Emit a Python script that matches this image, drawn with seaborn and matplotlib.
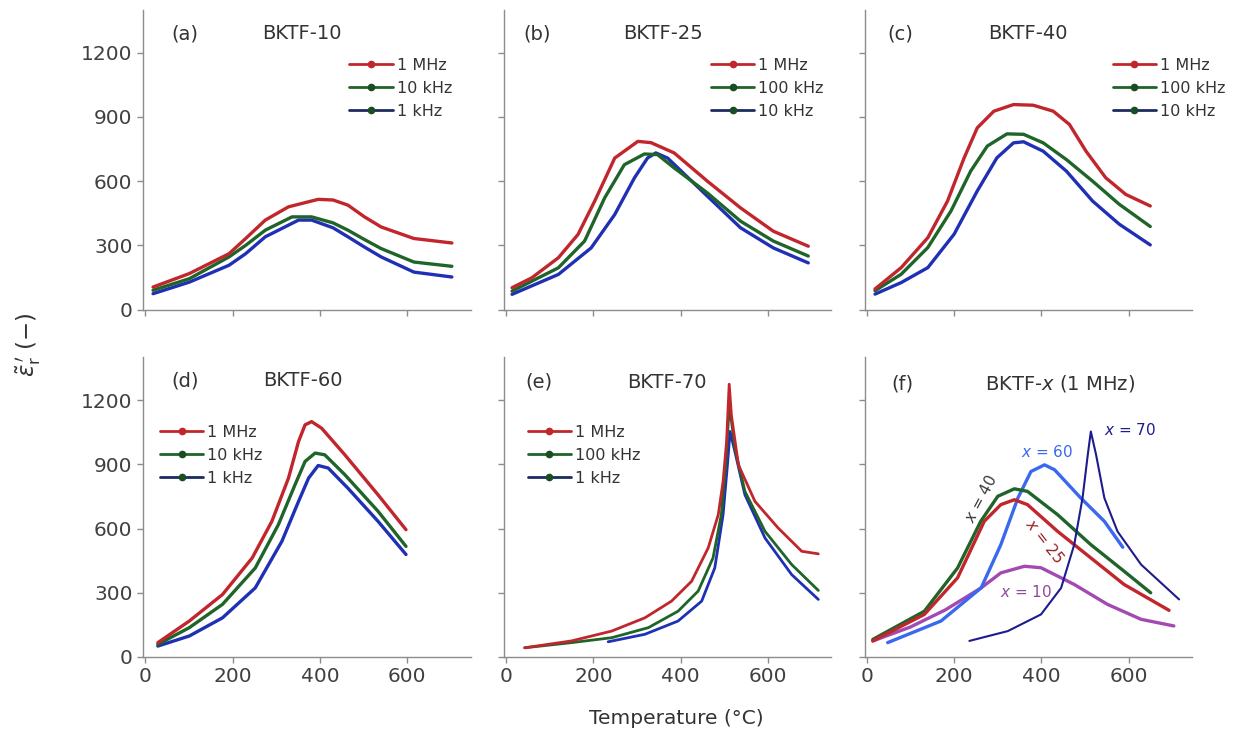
import matplotlib
matplotlib.use("Agg")
import matplotlib.pyplot as plt
from matplotlib.lines import Line2D
import pandas as pd
import seaborn as sns

# ---------------- data (temperature in °C, permittivity) ----------------
# (a) BKTF-10
a_1MHz_T = [18, 101, 192, 230, 275, 328, 396, 430, 464, 502, 540, 615, 702]
a_1MHz_V = [105, 168, 261, 332, 418, 480, 515, 512, 488, 433, 386, 332, 311]
a_10kHz_T = [18, 101, 192, 230, 275, 336, 381, 430, 464, 502, 540, 615, 702]
a_10kHz_V = [90, 144, 246, 300, 371, 433, 433, 405, 371, 327, 285, 222, 202]
a_1kHz_T = [18, 101, 192, 230, 275, 351, 381, 430, 464, 502, 540, 615, 702]
a_1kHz_V = [74, 128, 207, 261, 340, 418, 418, 382, 340, 292, 246, 175, 152]

# (b) BKTF-25
b_1MHz_T = [14, 59, 120, 165, 203, 249, 302, 332, 385, 461, 537, 612, 692]
b_1MHz_V = [102, 148, 242, 351, 506, 708, 786, 780, 732, 600, 475, 366, 296]
b_100kHz_T = [14, 120, 180, 226, 271, 317, 347, 385, 461, 537, 612, 692]
b_100kHz_V = [86, 195, 320, 522, 677, 727, 724, 662, 545, 413, 320, 250]
b_10kHz_T = [14, 120, 195, 249, 294, 324, 343, 370, 461, 537, 612, 692]
b_10kHz_V = [71, 164, 288, 444, 615, 708, 732, 708, 530, 382, 288, 218]

# (c) BKTF-40
c_1MHz_T = [19, 79, 140, 185, 223, 253, 291, 336, 381, 427, 464, 502, 547, 593, 649]
c_1MHz_V = [96, 196, 336, 507, 709, 849, 927, 958, 955, 927, 865, 740, 616, 538, 484]
c_100kHz_T = [19, 79, 140, 193, 238, 276, 321, 359, 404, 457, 517, 578, 649]
c_100kHz_V = [88, 165, 290, 461, 647, 764, 821, 819, 779, 701, 600, 492, 388]
c_10kHz_T = [19, 79, 140, 200, 253, 298, 336, 359, 404, 457, 517, 578, 649]
c_10kHz_V = [72, 126, 196, 352, 554, 709, 779, 784, 740, 647, 507, 399, 302]

# (d) BKTF-60
d_1MHz_T = [29, 101, 177, 245, 290, 328, 351, 366, 381, 404, 457, 533, 597]
d_1MHz_V = [67, 168, 292, 463, 634, 836, 1007, 1085, 1100, 1069, 945, 758, 595]
d_10kHz_T = [29, 101, 177, 252, 305, 343, 366, 389, 411, 457, 533, 597]
d_10kHz_V = [59, 137, 246, 416, 619, 805, 914, 953, 945, 852, 681, 517]
d_1kHz_T = [29, 101, 177, 252, 313, 351, 374, 396, 419, 464, 533, 597]
d_1kHz_V = [51, 98, 183, 323, 541, 727, 836, 895, 883, 789, 634, 479]

# (e) BKTF-70
e_1MHz_T = [43, 150, 242, 318, 379, 425, 463, 486, 497, 505, 511, 516, 532, 570, 623, 677, 715]
e_1MHz_V = [43, 75, 121, 183, 261, 354, 510, 665, 820, 1007, 1275, 1131, 898, 727, 603, 494, 482]
e_100kHz_T = [43, 150, 242, 326, 394, 440, 474, 493, 503, 509, 512, 524, 547, 593, 654, 715]
e_100kHz_V = [43, 67, 90, 137, 214, 308, 463, 665, 898, 1100, 1170, 976, 774, 587, 432, 311]
e_1kHz_T = [234, 318, 394, 448, 478, 497, 507, 513, 524, 547, 593, 654, 715]
e_1kHz_V = [71, 106, 168, 261, 416, 665, 898, 1054, 960, 758, 556, 385, 269]

# (f) BKTF-x at 1 MHz
f_x10_T = [14, 100, 180, 262, 307, 361, 399, 475, 551, 628, 703]
f_x10_V = [75, 140, 220, 323, 393, 424, 417, 339, 246, 176, 145]
f_x25_T = [14, 132, 208, 269, 307, 338, 368, 437, 513, 589, 692]
f_x25_V = [75, 199, 370, 634, 712, 735, 712, 587, 463, 339, 218]
f_x40_T = [14, 132, 208, 261, 300, 338, 368, 437, 513, 589, 650]
f_x40_V = [82, 214, 416, 634, 751, 786, 774, 665, 525, 401, 300]
f_x60_T = [48, 170, 262, 307, 346, 376, 407, 430, 490, 544, 586]
f_x60_V = [67, 168, 323, 525, 743, 867, 898, 875, 743, 634, 513]
f_x70_T = [235, 323, 399, 445, 475, 494, 506, 513, 525, 544, 574, 628, 715]
f_x70_V = [75, 121, 199, 323, 525, 743, 945, 1054, 945, 743, 587, 432, 269]

panel_tags = ["(a)", "(b)", "(c)", "(d)", "(e)", "(f)"]
panel_names = ["BKTF-10", "BKTF-25", "BKTF-40", "BKTF-60", "BKTF-70", "BKTF-$x$ (1 MHz)"]
legend_labels = [
    ["1 MHz", "10 kHz", "1 kHz"],
    ["1 MHz", "100 kHz", "10 kHz"],
    ["1 MHz", "100 kHz", "10 kHz"],
    ["1 MHz", "10 kHz", "1 kHz"],
    ["1 MHz", "100 kHz", "1 kHz"],
]
x_ticks = [0, 200, 400, 600]
y_ticks = [0, 300, 600, 900, 1200]

# ---------------- style ----------------
RED = "#c0262b"
GREEN = "#1f6428"
BLUE = "#2030b4"
BRIGHT = "#3a68ee"
NAVY = "#1c1c8e"
PURPLE = "#a24ab0"

sns.set_theme(style="ticks")
plt.rcParams['font.family'] = ['DejaVu Sans', 'Noto Sans CJK JP']
plt.rcParams['mathtext.fontset'] = 'dejavusans'

fig, axes = plt.subplots(2, 3, figsize=(12.38, 7.41), dpi=100, sharex=True, sharey=True)
fig.subplots_adjust(left=0.1155, right=0.963, top=0.9865, bottom=0.1134,
                    wspace=0.101, hspace=0.16)
axes = axes.ravel()

series = [
    [(a_1MHz_T, a_1MHz_V, RED), (a_10kHz_T, a_10kHz_V, GREEN), (a_1kHz_T, a_1kHz_V, BLUE)],
    [(b_1MHz_T, b_1MHz_V, RED), (b_100kHz_T, b_100kHz_V, GREEN), (b_10kHz_T, b_10kHz_V, BLUE)],
    [(c_1MHz_T, c_1MHz_V, RED), (c_100kHz_T, c_100kHz_V, GREEN), (c_10kHz_T, c_10kHz_V, BLUE)],
    [(d_1MHz_T, d_1MHz_V, RED), (d_10kHz_T, d_10kHz_V, GREEN), (d_1kHz_T, d_1kHz_V, BLUE)],
    [(e_1MHz_T, e_1MHz_V, RED), (e_100kHz_T, e_100kHz_V, GREEN), (e_1kHz_T, e_1kHz_V, BLUE)],
]

def draw(ax, T, V, color, lw):
    df = pd.DataFrame({"T": T, "V": V})
    sns.lineplot(data=df, x="T", y="V", ax=ax, color=color, lw=lw,
                 sort=False, estimator=None, legend=False,
                 solid_capstyle="round", solid_joinstyle="round")

for i, ser in enumerate(series):
    ax = axes[i]
    lw = 2.0 if i == 4 else 2.4
    for T, V, c in reversed(ser):
        draw(ax, T, V, c, lw)

# panel f
axf = axes[5]
draw(axf, f_x10_T, f_x10_V, PURPLE, 2.4)
draw(axf, f_x60_T, f_x60_V, BRIGHT, 2.4)
draw(axf, f_x40_T, f_x40_V, GREEN, 2.4)
draw(axf, f_x25_T, f_x25_V, RED, 2.4)
draw(axf, f_x70_T, f_x70_V, NAVY, 1.5)

lab_kw = dict(fontsize=11, va="center")
axf.text(543, 1063, "$x$ = 70", color=NAVY, ha="left", **lab_kw)
axf.text(413, 960, "$x$ = 60", color=BRIGHT, ha="center", **lab_kw)
axf.text(262, 740, "$x$ = 40", color="#3a3a3a", ha="center", rotation=62, **lab_kw)
axf.text(406, 541, "$x$ = 25", color="#9a2226", ha="center", rotation=-52, **lab_kw)
axf.text(365, 304, "$x$ = 10", color="#8e4a9e", ha="center", **lab_kw)

# legends
leg_pos = [(0.63, 0.84), (0.633, 0.84), (0.758, 0.84), (0.052, 0.775), (0.073, 0.775)]
handle_styles = [(RED, RED), (GREEN, "#1b4d22"), ("#1c2a60", "#1b4d22")]
for i in range(5):
    handles = [Line2D([0], [0], color=lc, lw=2.0, marker="o", markersize=4.5,
                      markerfacecolor=mc, markeredgecolor=mc)
               for lc, mc in handle_styles]
    leg = axes[i].legend(handles, legend_labels[i], loc="upper left",
                         bbox_to_anchor=leg_pos[i], frameon=False, fontsize=11.5,
                         handlelength=2.7, handletextpad=0.25, labelspacing=0.5,
                         borderpad=0, borderaxespad=0)
    for t in leg.get_texts():
        t.set_color("#333333")

tag_x = [0.088, 0.061, 0.07, 0.088, 0.067, 0.082]
name_x = [0.364, 0.363, 0.376, 0.367, 0.378, 0.367]
tag_y = [0.92, 0.92, 0.92, 0.923, 0.918, 0.913]
for i, ax in enumerate(axes):
    ax.text(tag_x[i], tag_y[i], panel_tags[i], transform=ax.transAxes,
            fontsize=14, color="#333333", ha="left", va="center")
    ax.text(name_x[i], tag_y[i], panel_names[i], transform=ax.transAxes,
            fontsize=14, color="#333333", ha="left", va="center")
    ax.set_xlim(-5, 745)
    ax.set_ylim(0, 1400)
    ax.set_xticks(x_ticks)
    ax.set_yticks(y_ticks)
    ax.set_xlabel("")
    ax.set_ylabel("")
    for s in ["top", "right"]:
        ax.spines[s].set_visible(False)
    for s in ["left", "bottom"]:
        ax.spines[s].set_color("#8c8c8c")
        ax.spines[s].set_linewidth(1.0)
    ax.tick_params(direction="out", length=4, width=1, color="#8c8c8c",
                   labelsize=14.5, labelcolor="#404040")

fig.text(0.546, 0.031, "Temperature (°C)", fontsize=14.5, color="#333333",
         ha="center", va="center")
fig.text(0.023, 0.535, "$\\tilde{\\varepsilon}_{\\mathrm{r}}^{\\,\\prime}$ (\u2212)",
         fontsize=16.5, color="#333333", rotation=90, ha="center", va="center")

fig.savefig("out.png", dpi=100)
